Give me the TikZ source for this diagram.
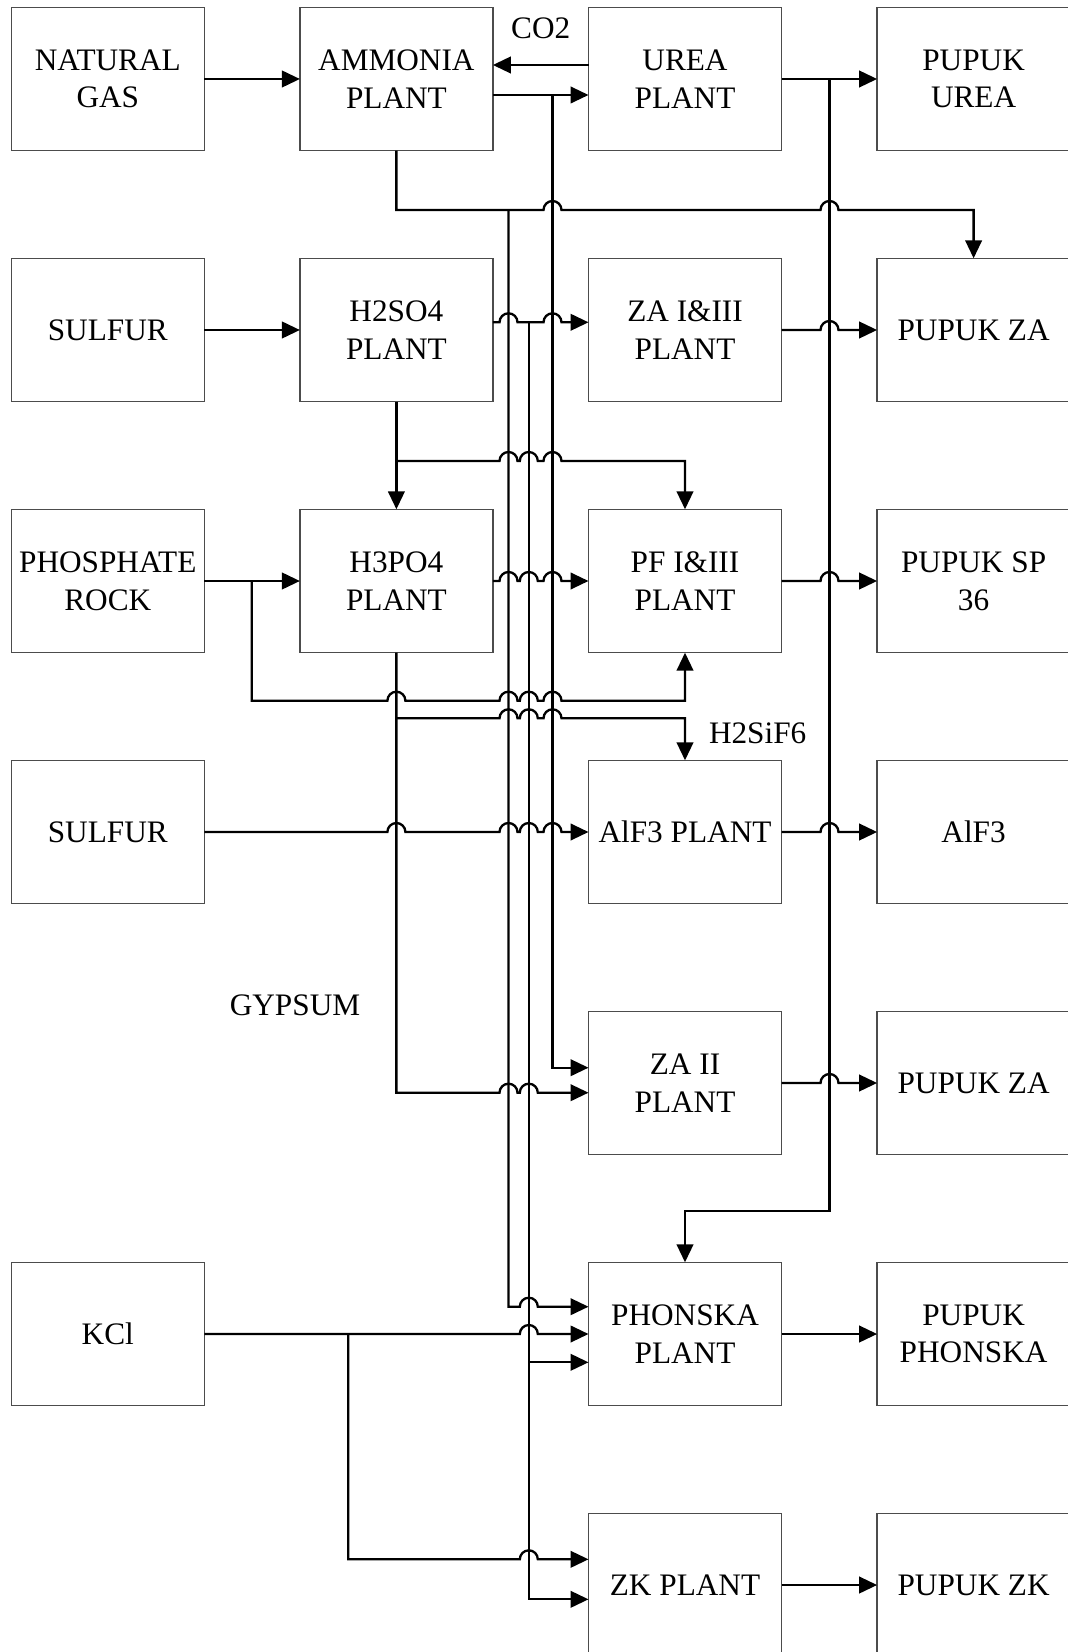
\documentclass[tikz,border=0pt]{standalone}
\usepackage{fontspec}
\setmainfont{Liberation Serif}
\usetikzlibrary{positioning, arrows.meta, calc}
\tikzset {
    >={Triangle[length=5.1pt, width=4.7pt]},
    node distance=1.076cm and 0.956cm,
    block/.style={draw=black!70, line width=0.4pt, outer sep=0pt,
        minimum width=1.93cm, minimum height=1.434cm, inner sep=1pt,
        align=center, font=\fontsize{8.9}{10.7}\selectfont},
    flow/.style={->, line width=0.66pt},
    tag/.style={inner sep=0pt, font=\fontsize{8.9}{10.7}\selectfont}
}
% line hop over the vertical through #1, on the level of #2
\newcommand{\hopover}[2]{-- ($(#1 |- #2)+(-0.09,0)$) arc[start angle=180, end angle=0, radius=0.09]}

\begin{document}
\begin{tikzpicture}
    \useasboundingbox (0,0) rectangle (10.67,-16.52);

    \node[block] (ng) at (1.078,-0.79) {NATURAL\\GAS};
    \node[block, right=of ng] (ammonia) {AMMONIA\\PLANT};
    \node[block, right=of ammonia] (urea) {UREA\\PLANT};
    \node[block, right=of urea] (pupukurea) {PUPUK\\UREA};

    \node[block, below=of ng] (sulfura) {SULFUR};
    \node[block, right=of sulfura] (h2so4) {H2SO4\\PLANT};
    \node[block, right=of h2so4] (zaone) {ZA I\&III\\PLANT};
    \node[block, right=of zaone] (pupukzaa) {PUPUK ZA};

    \node[block, below=of sulfura] (rock) {PHOSPHATE\\ROCK};
    \node[block, right=of rock] (h3po4) {H3PO4\\PLANT};
    \node[block, right=of h3po4] (pf) {PF I\&III\\PLANT};
    \node[block, right=of pf] (sp36) {PUPUK SP\\36};

    \node[block, below=of rock] (sulfurb) {SULFUR};
    \node[block, below=of pf] (alfplant) {AlF3 PLANT};
    \node[block, right=of alfplant] (alf) {AlF3};

    \node[block, below=of alfplant] (zatwo) {ZA II\\PLANT};
    \node[block, right=of zatwo] (pupukzab) {PUPUK ZA};

    \node[block, below=of zatwo] (phonska) {PHONSKA\\PLANT};
    \node[block, right=of phonska] (pupukphonska) {PUPUK\\PHONSKA};
    \node[block] (kcl) at (ng |- phonska) {KCl};

    \node[block, below=of phonska] (zk) {ZK PLANT};
    \node[block, right=of zk] (pupukzk) {PUPUK ZK};

    \node[tag, anchor=west] (sif) at (7.083,-7.33) {H2SiF6};
    \node[tag] (gypsum) at (2.95,-10.05) {GYPSUM};

    % buses and branch points
    \coordinate (nha) at (5.085,-2.10);
    \coordinate (sa) at (5.288,-3.223);
    \coordinate (nhb) at (5.525,-0.95);
    \coordinate (co) at (8.295,-0.79);
    \coordinate (sb) at (3.964,-4.61);
    \coordinate (pr) at (2.517,-5.81);
    \coordinate (pr2) at (2.517,-7.007);
    \coordinate (hf) at (3.964,-7.183);
    \coordinate (kc) at (3.483,-13.34);
    \coordinate (gy) at ([yshift=-0.097cm]zatwo.west);
    \coordinate (pa) at ([yshift=0.273cm]phonska.west);
    \coordinate (pc) at ([yshift=-0.283cm]phonska.west);
    \coordinate (kz) at ([yshift=0.257cm]zk.west);

    % row 1
    \draw[flow] (ng) -- (ammonia);
    \draw[flow] ([yshift=0.14cm]urea.west) -- ([yshift=0.14cm]ammonia.east)
        node[tag, midway, above=0.25cm] {CO2};
    \draw[flow] ([yshift=-0.16cm]ammonia.east) -- ([yshift=-0.16cm]urea.west);
    \draw[flow] (urea) -- (pupukurea);
    \draw[flow] (nhb) |- ([yshift=0.153cm]zatwo.west);
    \draw[flow] (co) -- ++(0,-11.32) -| (phonska.north);
    \draw[flow] (ammonia.south) -- (ammonia.south |- nha) \hopover{nhb}{nha} \hopover{co}{nha} -| (pupukzaa.north);
    \draw[flow] (nha) -- (nha |- pa) \hopover{sa}{pa} -- (pa);

    % row 2
    \draw[flow] (sulfura) -- (h2so4);
    \draw[flow] (h2so4.east |- sa) \hopover{nha}{sa} \hopover{nhb}{sa} -- (zaone.west |- sa);
    \draw[flow] (zaone.east) \hopover{co}{zaone} -- (pupukzaa.west);
    \draw[flow] (sa) |- ([yshift=-0.143cm]zk.west);
    \draw[flow] (sa |- pc) -- (pc);
    \draw[flow] (h2so4) -- (h3po4);
    \draw[flow] (sb) \hopover{nha}{sb} \hopover{sa}{sb} \hopover{nhb}{sb} -| (pf.north);

    % row 3
    \draw[flow] (rock) -- (h3po4);
    \draw[flow] (pr) -- (pr2) \hopover{h3po4}{pr2} \hopover{nha}{pr2} \hopover{sa}{pr2} \hopover{nhb}{pr2} -| (pf.south);
    \draw[flow] (h3po4.east) \hopover{nha}{h3po4} \hopover{sa}{h3po4} \hopover{nhb}{h3po4} -- (pf.west);
    \draw[flow] (pf.east) \hopover{co}{pf} -- (sp36.west);
    \draw[flow] (hf) \hopover{nha}{hf} \hopover{sa}{hf} \hopover{nhb}{hf} -| (alfplant.north);
    \draw[flow] (h3po4.south) -- (h3po4.south |- gy) \hopover{nha}{gy} \hopover{sa}{gy} -- (gy);

    % row 4 and 5
    \draw[flow] (sulfurb.east) \hopover{h3po4}{sulfurb} \hopover{nha}{sulfurb} \hopover{sa}{sulfurb} \hopover{nhb}{sulfurb} -- (alfplant.west);
    \draw[flow] (alfplant.east) \hopover{co}{alfplant} -- (alf.west);
    \draw[flow] (zatwo.east) \hopover{co}{zatwo} -- (pupukzab.west);

    % row 6 and 7
    \draw[flow] (kcl.east) \hopover{sa}{kcl} -- (phonska.west);
    \draw[flow] (kc) -- (kc |- kz) \hopover{sa}{kz} -- (kz);
    \draw[flow] (phonska) -- (pupukphonska);
    \draw[flow] (zk) -- (pupukzk);
\end{tikzpicture}
\end{document}
